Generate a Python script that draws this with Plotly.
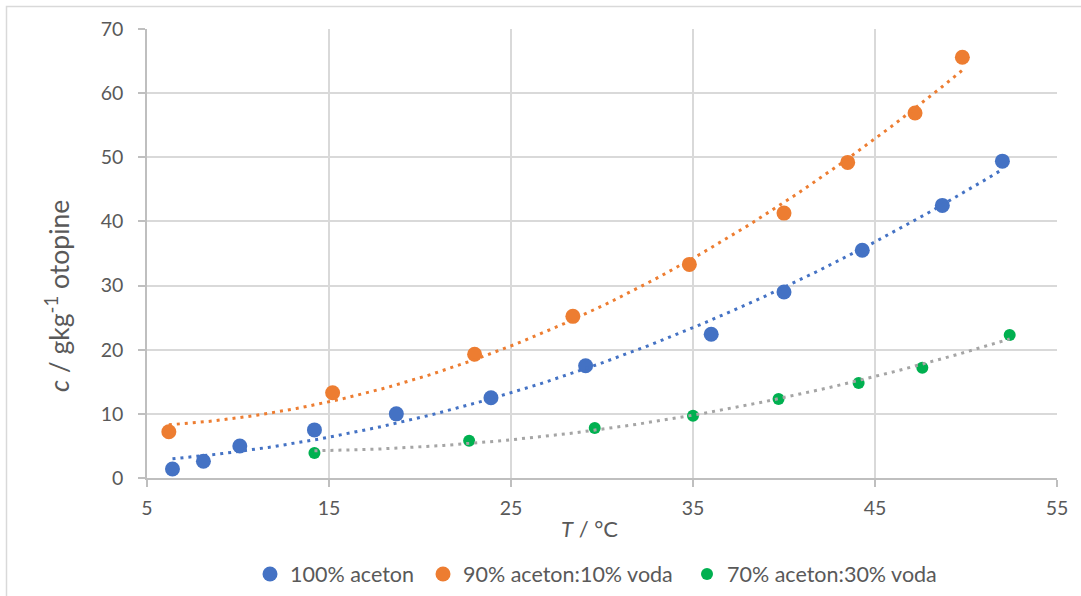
import numpy as np
import plotly.graph_objects as go

# ---- data ----
t_100 = [6.4, 8.1, 10.1, 14.2, 18.7, 23.9, 29.1, 36.0, 40.0, 44.3, 48.7, 52.0]
c_100 = [1.4, 2.6, 5.0, 7.5, 10.0, 12.5, 17.5, 22.4, 29.0, 35.5, 42.5, 49.4]

t_90 = [6.2, 15.2, 23.0, 28.4, 34.8, 40.0, 43.5, 47.2, 49.8]
c_90 = [7.2, 13.3, 19.3, 25.2, 33.3, 41.3, 49.2, 56.9, 65.6]

t_70 = [14.2, 22.7, 29.6, 35.0, 39.7, 44.1, 47.6, 52.4]
c_70 = [3.9, 5.8, 7.8, 9.7, 12.3, 14.8, 17.2, 22.3]

names = ["100% aceton", "90% aceton:10% voda", "70% aceton:30% voda"]
marker_colors = ["#4472C4", "#ED7D31", "#00B050"]
trend_colors = ["#4472C4", "#ED7D31", "#A5A5A5"]
marker_sizes = [15, 15, 12]

x_ticks = [5, 15, 25, 35, 45, 55]
y_ticks = [0, 10, 20, 30, 40, 50, 60, 70]

FONT = "Lato, 'Open Sans', sans-serif"
TXT = "#595959"

L, R, T, B = 147, 24, 29, 118
W, H = 1081, 596
pw, ph = W - L - R, H - T - B


def px_x(p):
    return (p - L) / pw


def px_y(p):
    return (H - B - p) / ph


fig = go.Figure()

series = [(t_100, c_100), (t_90, c_90), (t_70, c_70)]
legend_ids = ["legend", "legend2", "legend3"]
legend_text_x = [286, 459, 723]

for (xs, ys), nm, col, sz, lid in zip(series, names, marker_colors, marker_sizes, legend_ids):
    fig.add_trace(go.Scatter(x=xs, y=ys, mode="markers", name=nm, legend=lid,
                             marker=dict(color=col, size=sz, line=dict(width=0))))

# polynomial (order 2) trendlines, least squares like Excel
for (xs, ys), col in zip(series, trend_colors):
    xa = np.array(xs, float)
    ya = np.array(ys, float)
    coef = np.polyfit(xa, ya, 2)
    xx = np.linspace(xa.min(), xa.max(), 200)
    yy = np.polyval(coef, xx)
    fig.add_trace(go.Scatter(x=xx, y=yy, mode="lines", showlegend=False,
                             hoverinfo="skip",
                             line=dict(color=col, width=3, dash="3px,5px")))

legend_common = dict(orientation="h", yanchor="middle", y=px_y(574), xanchor="left",
                     font=dict(family=FONT, size=21.5, color=TXT),
                     itemsizing="trace", bgcolor="rgba(0,0,0,0)", borderwidth=0)

layout_legends = {}
for lid, tx in zip(legend_ids, legend_text_x):
    layout_legends[lid] = dict(legend_common, x=px_x(tx - 36))

fig.update_layout(
    template="none",
    width=W, height=H,
    margin=dict(l=L, r=R, t=T, b=B, autoexpand=False),
    paper_bgcolor="white", plot_bgcolor="white",
    font=dict(family=FONT, size=19.5, color=TXT),
    showlegend=True,
    xaxis=dict(range=[5, 55], tickvals=x_ticks, ticktext=[str(v) for v in x_ticks],
               showgrid=True, gridcolor="#D9D9D9", gridwidth=1.5,
               showline=True, linecolor="#BFBFBF", linewidth=1.5,
               ticks="outside", ticklen=7, tickcolor="#BFBFBF", tickwidth=1.5,
               ticklabelstandoff=5, automargin=False,
               zeroline=False, tickfont=dict(family=FONT, size=19.5, color=TXT), fixedrange=True),
    yaxis=dict(range=[0, 70], tickvals=y_ticks, ticktext=[str(v) for v in y_ticks],
               showgrid=True, gridcolor="#D9D9D9", gridwidth=1.5,
               showline=True, linecolor="#BFBFBF", linewidth=1.5,
               ticks="outside", ticklen=7, tickcolor="#BFBFBF", tickwidth=1.5,
               ticklabelstandoff=11, automargin=False,
               zeroline=False, tickfont=dict(family=FONT, size=19.5, color=TXT), fixedrange=True),
    annotations=[
        dict(text="<i>T</i> / °C", xref="paper", yref="paper",
             x=px_x(589), y=px_y(528), xanchor="center", yanchor="middle",
             showarrow=False, font=dict(family=FONT, size=22, color=TXT)),
        dict(text="<i>c</i> / gkg<sup>-1</sup> otopine", xref="paper", yref="paper",
             x=px_x(57), y=px_y(296), xanchor="center", yanchor="middle",
             textangle=-90, showarrow=False, font=dict(family=FONT, size=26.5, color=TXT)),
    ],
    shapes=[
        dict(type="rect", xref="paper", yref="paper",
             x0=px_x(6.5), x1=px_x(1200), y0=px_y(6.5), y1=px_y(700),
             line=dict(color="#D9D9D9", width=1.5), layer="below"),
    ],
    **layout_legends,
)

fig.write_html("out.html",
               config={"displayModeBar": False},
               post_script="document.body.style.margin='0';document.body.style.overflow='hidden';")
